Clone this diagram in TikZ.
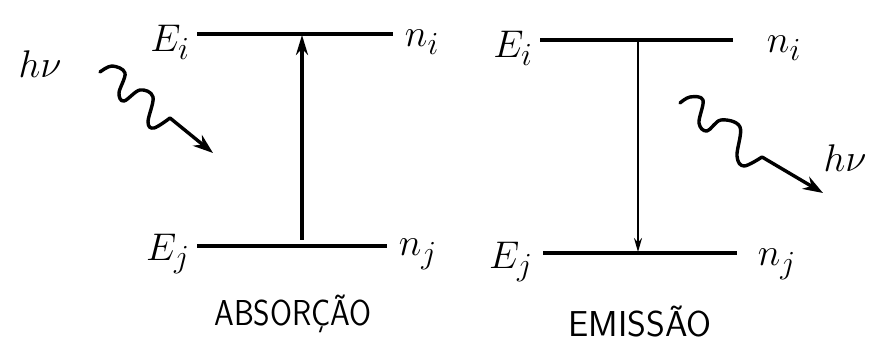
\documentclass[tikz,border=0pt]{standalone}
\usetikzlibrary{arrows.meta}
\newcommand\hlab[1]{\scalebox{1.55}{$#1$}}
\begin{document}
\begin{tikzpicture}[x=1pt,y=-1pt,
  lvl/.style={line width=3.6pt},
  trans/.style={line width=3.6pt,-{Stealth[length=20pt,width=12pt]}},
  wave/.style={line width=3.4pt,line cap=round,line join=round,-{Stealth[length=20pt,width=14pt]}},
  lab/.style={font=\fontsize{24.88}{28}\selectfont,inner sep=0pt},
  captext/.style={font=\sffamily\fontsize{36}{40}\selectfont,inner sep=0pt}]
\useasboundingbox (0,0) rectangle (871,347);
% ---------- Absorption ----------
\coordinate (a1) at (197,34);
\coordinate (a2) at (393,34);
\coordinate (a3) at (197,246);
\coordinate (a4) at (387,246);
\draw[lvl] (a1) -- (a2);
\draw[lvl] (a3) -- (a4);
\node[lab] (aEi) at (170,42) {\hlab{E_i}};
\node[lab] (ani) at (422,42) {\hlab{n_i}};
\node[lab] (aEj) at (168,254) {\hlab{E_j}};
\node[lab] (anj) at (418,254) {\hlab{n_j}};
\coordinate (au0) at (302,240);
\coordinate (au1) at (302,35);
\draw[trans] (au0) -- (au1);
\node[lab] (ahv) at (40,64) {\hlab{h\nu}};
\coordinate (aw1) at (213,153);
\draw[wave] plot[smooth,tension=0.6] coordinates {(100,72) (112,66) (125,73) (119,93) (124,101) (140,90) (153,97) (148,122) (154,128) (170,118)} -- (aw1);
\node[captext] (abs) at (293,314) {\scalebox{0.88}[1]{ABSORÇÃO}};
% ---------- Emission ----------
\coordinate (e1) at (540,40);
\coordinate (e2) at (733,40);
\coordinate (e3) at (543,253);
\coordinate (e4) at (737,253);
\draw[lvl] (e1) -- (e2);
\draw[lvl] (e3) -- (e4);
\node[lab] (eEi) at (513,48) {\hlab{E_i}};
\node[lab] (eni) at (784,48) {\hlab{n_i}};
\node[lab] (eEj) at (511,262) {\hlab{E_j}};
\node[lab] (enj) at (777,264) {\hlab{n_j}};
\coordinate (ed0) at (638,41);
\coordinate (ed1) at (638,252);
\draw[line width=2pt,-{Stealth[length=14pt,width=8pt]}] (ed0) -- (ed1);
\coordinate (ew1) at (823,193);
\draw[wave] plot[smooth,tension=0.6] coordinates {(680,103) (690,97) (703,100) (699,123) (707,131) (721,120) (740,127) (737,156) (744,166) (762,157)} -- (ew1);
\node[lab] (ehv) at (845,158) {\hlab{h\nu}};
\node[captext] (emi) at (640,322) {EMISSÃO};
\end{tikzpicture}
\end{document}
